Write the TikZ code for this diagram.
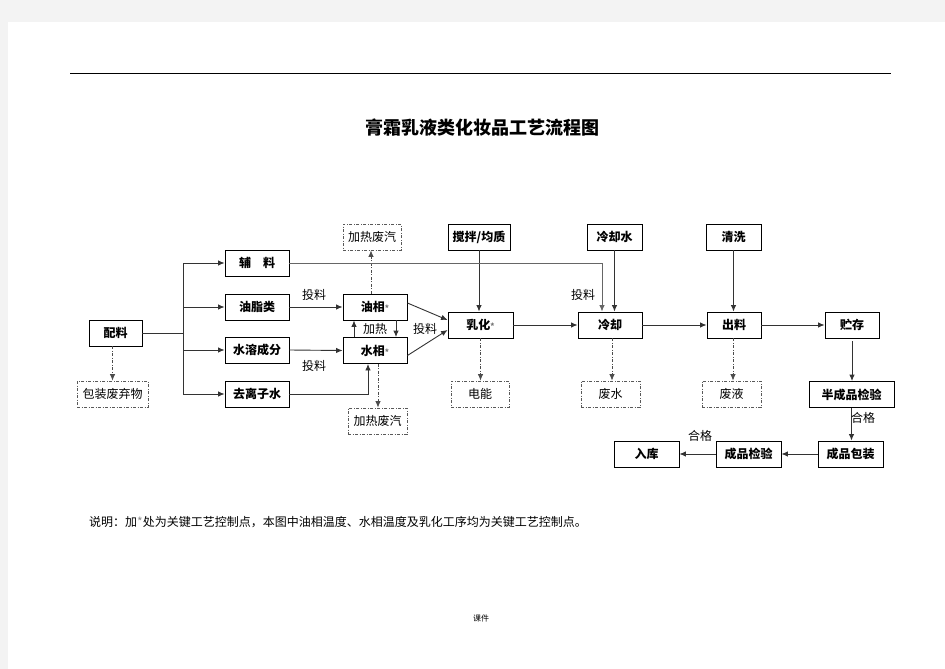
\documentclass[tikz,border=0pt]{standalone}
\usepackage{fontspec}
\setmainfont{Noto Sans CJK SC}
\usetikzlibrary{arrows.meta}
\definecolor{pagebg}{HTML}{F3F3F3}
\definecolor{conncol}{HTML}{333333}
\newcommand{\keystar}{{\color{black!55}\fontsize{8}{8}\selectfont *}}
\begin{document}
\begin{tikzpicture}[x=1pt,y=-1pt,
  box/.style={draw=black, line width=0.9pt, font=\bfseries\fontsize{12}{12}\selectfont, inner sep=0pt, minimum height=26pt},
  dbox/.style={draw=black!65, line width=0.8pt, dash pattern=on 3pt off 1.5pt on 1pt off 1.5pt, font=\fontsize{12}{12}\selectfont, inner sep=0pt, minimum height=26pt},
  conn/.style={draw=conncol, line width=0.9pt, -{Latex[length=6.5pt,width=5.5pt]}},
  dconn/.style={draw=black!70, line width=0.8pt, dash pattern=on 3pt off 1.5pt on 1pt off 1.5pt, -{Latex[length=6.5pt,width=5.5pt]}},
  plain/.style={draw=conncol, line width=0.9pt},
  lbl/.style={font=\fontsize{12}{12}\selectfont, inner sep=0pt}]
\useasboundingbox (0,0) rectangle (945,669);
\fill[pagebg] (0,0) rectangle (945,669);
\fill[white] (8,22) rectangle (945,669);
\draw[black, line width=1pt] (70,74) -- (891,74);

\node[font=\bfseries\fontsize{18}{18}\selectfont] (title) at (482,128) {膏霜乳液类化妆品工艺流程图};

\node[box, minimum width=53pt] (peiliao) at (115.5,333) {配料};
\node[dbox, minimum width=71pt] (bzfqw) at (112.5,394) {包装废弃物};
\node[box, minimum width=64pt] (fuliao) at (257,263) {辅\quad 料};
\node[box, minimum width=64pt] (yzl) at (257,307) {油脂类};
\node[box, minimum width=64pt] (srcf) at (257,350) {水溶成分};
\node[box, minimum width=64pt] (qlzs) at (257,394) {去离子水};
\node[dbox, minimum width=58pt] (jrfq1) at (372,237) {加热废汽};
\node[box, minimum width=64pt] (yx) at (375,307) {油相\keystar};
\node[box, minimum width=64pt] (sx) at (375,350.5) {水相\keystar};
\node[dbox, minimum width=59pt] (jrfq2) at (377.5,421) {加热废汽};
\node[box, minimum width=62pt] (jb) at (479,237) {搅拌/均质};
\node[box, minimum width=65pt] (rh) at (480.5,325) {乳化\keystar};
\node[dbox, minimum width=58pt] (dn) at (480,394) {电能};
\node[box, minimum width=55pt] (lqs) at (614.5,237) {冷却水};
\node[box, minimum width=64pt] (lq) at (610,325) {冷却};
\node[dbox, minimum width=59pt] (fs) at (610.5,394) {废水};
\node[box, minimum width=55pt] (qx) at (733.5,237) {清洗};
\node[box, minimum width=54pt] (cl) at (734,325) {出料};
\node[dbox, minimum width=59pt] (fy) at (731.5,394) {废液};
\node[box, minimum width=54pt] (zc) at (852,325) {贮存};
\node[box, minimum width=85pt] (bcp) at (851.5,394.5) {半成品检验};
\node[box, minimum width=65pt] (cpbz) at (850.5,454) {成品包装};
\node[box, minimum width=65pt] (cpjy) at (748.5,454) {成品检验};
\node[box, minimum width=65pt] (rk) at (646.5,454) {入库};

% branch from 配料
\coordinate (b0) at (183,333);
\coordinate (b1) at (183,263);
\coordinate (b4) at (183,394);
\draw[plain] (peiliao.east) -- (b0);
\draw[plain] (b1) -- (b4);
\draw[conn] (b1) -- (fuliao.west);
\draw[conn] (b1 |- yzl.west) -- (yzl.west);
\draw[conn] (b1 |- srcf.west) -- (srcf.west);
\draw[conn] (b4) -- (qlzs.west);
\draw[dconn] ([xshift=-3pt]peiliao.south) -- ([xshift=-3pt]peiliao.south |- bzfqw.north);

% into phases
\draw[conn] (yzl.east) -- (yx.west);
\draw[conn] (srcf.east) -- (sx.west);
\draw[conn] (qlzs.east) -| ([xshift=-7pt]sx.south);
\draw[conn] ([xshift=-21pt]sx.north) -- ([xshift=-21pt]yx.south);
\draw[conn] ([xshift=21pt]yx.south) -- ([xshift=21pt]sx.north);
\draw[dconn] ([xshift=-4pt]yx.north) -- ([xshift=-4pt]yx.north |- jrfq1.south);
\draw[dconn] ([xshift=3pt]sx.south) -- ([xshift=3pt]sx.south |- jrfq2.north);

% to emulsify
\draw[conn] ([yshift=4pt]yx.east) -- ([yshift=5pt]rh.west);
\draw[conn] ([yshift=-5pt]sx.east) -- ([yshift=-5pt]rh.west);
\draw[conn] (jb.south) -- (jb.south |- rh.north);
\draw[dconn] (rh.south) -- (rh.south |- dn.north);

% cooling
\draw[conn] (rh.east) -- (lq.west);
\draw[conn, draw=black!60] (fuliao.east) -| ([xshift=-8pt]lq.north);
\draw[conn] (lqs.south) -- (lqs.south |- lq.north);
\draw[dconn] ([xshift=2pt]lq.south) -- ([xshift=2pt]lq.south |- fs.north);

% discharge
\draw[conn] (lq.east) -- (cl.west);
\draw[conn] (qx.south) -- (qx.south |- cl.north);
\draw[dconn] ([xshift=-1pt]cl.south) -- ([xshift=-1pt]cl.south |- fy.north);
\draw[conn] (cl.east) -- (zc.west);
\draw[conn] ([yshift=-3pt]zc.south) -- (zc.south |- bcp.north);
\draw[conn] (bcp.south) -- (bcp.south |- cpbz.north);
\draw[conn] (cpbz.west) -- (cpjy.east);
\draw[conn] (cpjy.west) -- (rk.east);

% labels
\node[lbl] (l1) at (314,295) {投料};
\node[lbl] (l2) at (314,366) {投料};
\node[lbl] (l3) at (425,329) {投料};
\node[lbl] (l4) at (583,295) {投料};
\node[lbl] (l5) at (375,329) {加热};
\node[lbl] (l6) at (863,418) {合格};
\node[lbl] (l7) at (700,436) {合格};

\node[anchor=west, font=\fontsize{12}{12}\selectfont, inner sep=0pt] (note) at (89,522) {说明：加{\color{black!45}*}处为关键工艺控制点，本图中油相温度、水相温度及乳化工序均为关键工艺控制点。};
\node[font=\fontsize{8}{8}\selectfont, inner sep=0pt] (foot) at (481,618) {课件};
\end{tikzpicture}
\end{document}
